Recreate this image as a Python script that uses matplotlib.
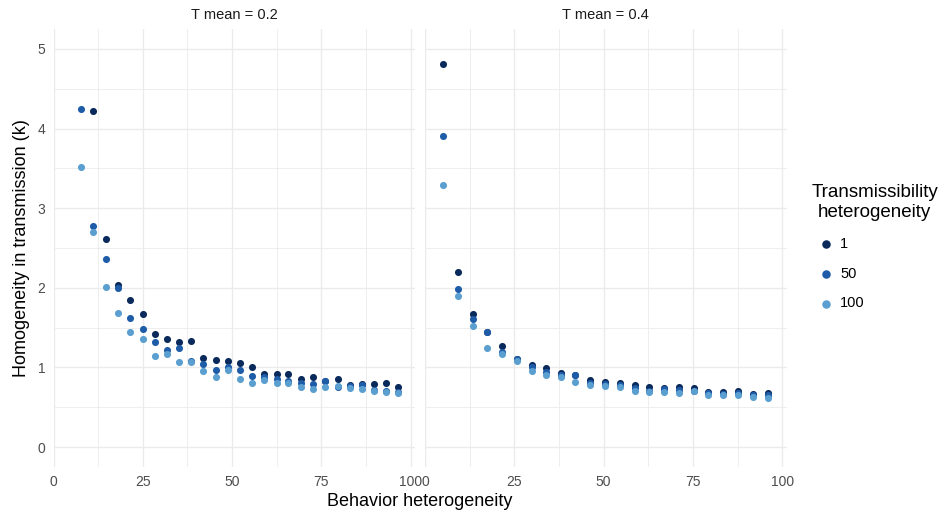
import matplotlib.pyplot as plt
import numpy as np

plt.rcParams['font.family'] = ['Liberation Sans', 'DejaVu Sans']

# behaviour heterogeneity values for each panel
x_low = [7.8, 11.1, 14.7, 18.1, 21.4, 25.1, 28.3, 31.7, 35.2, 38.6, 41.9, 45.5, 48.9, 52.1,
         55.7, 59.0, 62.5, 65.7, 69.3, 72.7, 76.1, 79.6, 82.9, 86.3, 89.7, 93.1, 96.5]
x_high = [5.1, 9.2, 13.3, 17.4, 21.6, 25.7, 29.9, 33.9, 38.0, 42.1, 46.3, 50.5, 54.6, 58.8,
          62.8, 66.9, 71.0, 75.2, 79.3, 83.4, 87.6, 91.7, 95.9]

# k for T mean = 0.2 (first point of series "1" lies above the plotted range)
k_low_1 = [np.nan, 4.22, 2.61, 2.03, 1.85, 1.67, 1.42, 1.36, 1.32, 1.33, 1.12, 1.09, 1.075, 1.06,
           1.01, 0.915, 0.915, 0.92, 0.855, 0.88, 0.835, 0.857, 0.78, 0.795, 0.795, 0.80, 0.76]
k_low_50 = [4.25, 2.77, 2.36, 2.00, 1.62, 1.48, 1.32, 1.22, 1.25, 1.08, 1.045, 0.97, 1.01, 0.97,
            0.895, 0.88, 0.86, 0.83, 0.80, 0.795, 0.83, 0.76, 0.77, 0.775, 0.72, 0.71, 0.695]
k_low_100 = [3.52, 2.70, 2.01, 1.68, 1.44, 1.355, 1.145, 1.17, 1.07, 1.07, 0.95, 0.88, 0.97, 0.86,
             0.80, 0.845, 0.80, 0.81, 0.75, 0.73, 0.76, 0.77, 0.74, 0.73, 0.70, 0.695, 0.68]

# k for T mean = 0.4
k_high_1 = [4.805, 2.20, 1.67, 1.44, 1.27, 1.11, 1.03, 0.99, 0.93, 0.90, 0.845, 0.82, 0.80, 0.775,
            0.75, 0.74, 0.75, 0.74, 0.695, 0.695, 0.70, 0.67, 0.68]
k_high_50 = [3.91, 1.99, 1.605, 1.44, 1.19, 1.10, 1.00, 0.94, 0.905, 0.90, 0.81, 0.795, 0.785, 0.74,
             0.71, 0.73, 0.72, 0.71, 0.68, 0.67, 0.68, 0.655, 0.65]
k_high_100 = [3.29, 1.90, 1.52, 1.25, 1.175, 1.085, 0.95, 0.91, 0.88, 0.815, 0.785, 0.77, 0.75, 0.71,
              0.69, 0.69, 0.68, 0.70, 0.65, 0.65, 0.66, 0.635, 0.62]

levels = ['1', '50', '100']
colors = ['#0a2a5c', '#1f5ca8', '#5b9fd0']
panel_titles = ['T mean = 0.2', 'T mean = 0.4']

panels = [
    (x_low, [k_low_1, k_low_50, k_low_100]),
    (x_high, [k_high_1, k_high_50, k_high_100]),
]

fig = plt.figure(figsize=(9.39, 5.14), dpi=100)
W, H = 939, 514
lefts = [53.5, 425]
panel_w = 361.5
top, bottom = 29, 467

grid_col = '#ebebeb'
axes = []
for i, (xs, series) in enumerate(panels):
    ax = fig.add_axes([lefts[i] / W, 1 - bottom / H, panel_w / W, (bottom - top) / H])
    axes.append(ax)
    for ys, col, lab in zip(series, colors, levels):
        ax.scatter(xs, ys, s=26, color=col, label=lab, linewidths=0, zorder=3)
    ax.set_xlim(0, 101.2)
    ax.set_ylim(-0.25, 5.25)
    ax.set_xticks([0, 25, 50, 75, 100])
    ax.set_xticks([12.5, 37.5, 62.5, 87.5], minor=True)
    ax.set_yticks([0, 1, 2, 3, 4, 5])
    ax.set_yticks([0.5, 1.5, 2.5, 3.5, 4.5], minor=True)
    ax.grid(which='major', color=grid_col, linewidth=1.0, zorder=0)
    ax.grid(which='minor', color=grid_col, linewidth=0.6, zorder=0)
    ax.set_axisbelow(True)
    for sp in ax.spines.values():
        sp.set_visible(False)
    ax.tick_params(which='both', length=0, labelsize=10, labelcolor='#4d4d4d', pad=6)
    if i == 1:
        ax.tick_params(axis='y', labelleft=False)
    ax.set_title(panel_titles[i], fontsize=10.5, color='#1a1a1a', pad=7)

fig.text((lefts[0] + lefts[1] + panel_w) / 2 / W, 1 - 501 / H, 'Behavior heterogeneity',
         ha='center', va='center', fontsize=13)
fig.text(22 / W, 1 - 248 / H, 'Homogeneity in transmission (k)', rotation=90,
         ha='center', va='center', fontsize=13)

handles, labels = axes[0].get_legend_handles_labels()
leg = fig.legend(handles, labels, title='Transmissibility\nheterogeneity',
                 loc='upper left', bbox_to_anchor=(798 / W, 1 - 171 / H),
                 frameon=False, fontsize=10.5, title_fontsize=13.5, alignment='left',
                 labelspacing=1.09, handlelength=2.0, handletextpad=0.0, markerscale=1.2)
leg.get_title().set_multialignment('center')

plt.savefig('out.png', dpi=100)
